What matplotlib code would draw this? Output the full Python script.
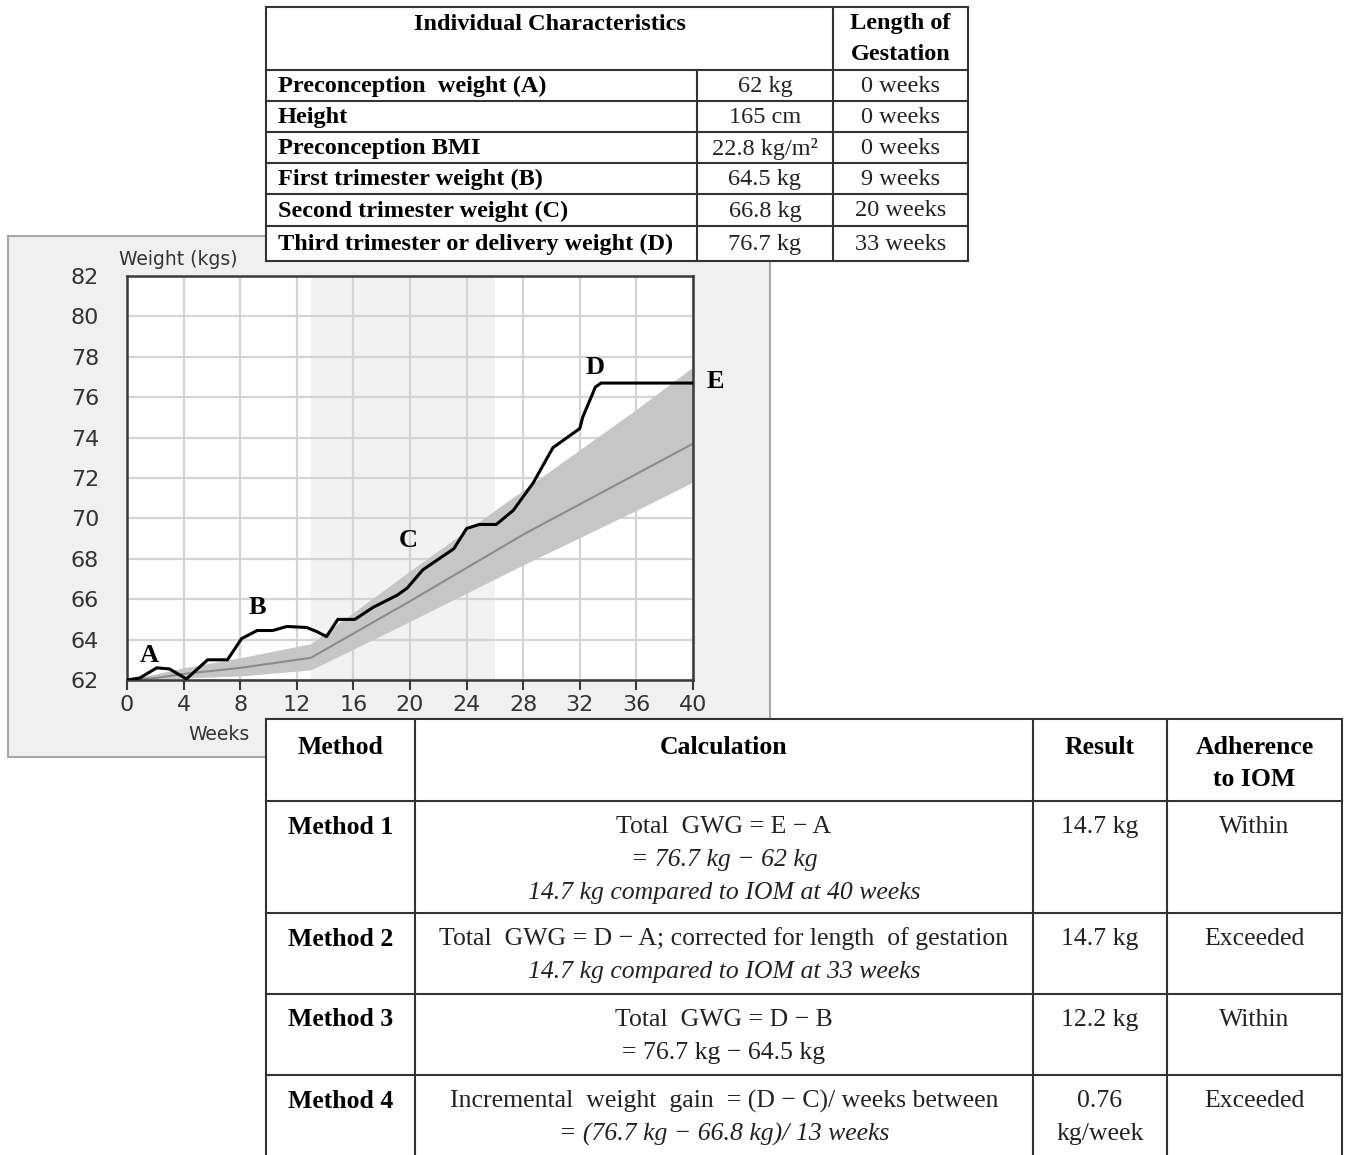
import matplotlib.pyplot as plt
from matplotlib.patches import Rectangle

plt.rcParams.update({'font.family': 'DejaVu Sans'})

W, H = 1348, 1155

# measured weight track (weeks, kg)
weeks = [0, 0.9, 2.1, 3.0, 4.2, 5.7, 7.1, 8.1, 9.2, 10.3, 11.3, 12.7, 13.4, 14.1,
         14.9, 16.1, 17.4, 19.1, 19.8, 20.9, 23.1, 24.0, 24.9, 26.1, 27.3, 28.7,
         30.1, 31.1, 32.0, 32.2, 33.1, 33.5, 40]
weight = [62.0, 62.1, 62.6, 62.55, 62.05, 63.0, 63.0, 64.05, 64.45, 64.45, 64.65,
          64.6, 64.4, 64.15, 65.0, 65.0, 65.6, 66.2, 66.55, 67.45, 68.5, 69.5,
          69.7, 69.7, 70.4, 71.75, 73.5, 74.0, 74.45, 75.0, 76.5, 76.7, 76.7]

# IOM recommended range
iom_weeks = [0, 2, 4, 8, 13, 20, 28, 36, 40]
iom_low = [62.0, 62.0, 62.1, 62.2, 62.5, 64.9, 67.7, 70.4, 71.8]
iom_mid = [62.0, 62.1, 62.3, 62.6, 63.1, 65.9, 69.2, 72.2, 73.7]
iom_high = [62.0, 62.3, 62.6, 63.1, 63.8, 67.4, 71.4, 75.4, 77.5]

second_trimester = [13, 26]

point_names = ['A', 'B', 'C', 'D', 'E']
point_weeks = [1.6, 9.2, 19.9, 33.1, 41.6]
point_weights = [63.2, 65.6, 68.9, 77.45, 76.8]

# top table
char_header = ['Individual Characteristics']
gest_header = ['Length of', 'Gestation']
char_rows = ['Preconception  weight (A)', 'Height', 'Preconception BMI',
             'First trimester weight (B)', 'Second trimester weight (C)',
             'Third trimester or delivery weight (D)']
char_values = ['62 kg', '165 cm', '22.8 kg/m\u00b2', '64.5 kg', '66.8 kg', '76.7 kg']
char_weeks = ['0 weeks', '0 weeks', '0 weeks', '9 weeks', '20 weeks', '33 weeks']

# bottom table
method_headers = [['Method'], ['Calculation'], ['Result'], ['Adherence', 'to IOM']]
methods = ['Method 1', 'Method 2', 'Method 3', 'Method 4']
calc_lines = [
    [('Total  GWG = E \u2212 A', 'normal'), ('= 76.7 kg \u2212 62 kg', 'italic'),
     ('14.7 kg compared to IOM at 40 weeks', 'italic')],
    [('Total  GWG = D \u2212 A; corrected for length  of gestation', 'normal'),
     ('14.7 kg compared to IOM at 33 weeks', 'italic')],
    [('Total  GWG = D \u2212 B', 'normal'), ('= 76.7 kg \u2212 64.5 kg', 'normal')],
    [('Incremental  weight  gain  = (D \u2212 C)/ weeks between', 'normal'),
     ('= (76.7 kg \u2212 66.8 kg)/ 13 weeks', 'italic')],
]
results = [['14.7 kg'], ['14.7 kg'], ['12.2 kg'], ['0.76', 'kg/week']]
adherence = ['Within', 'Exceeded', 'Within', 'Exceeded']

fig = plt.figure(figsize=(W / 100, H / 100), dpi=100)
fig.patch.set_facecolor('white')

def px_axes(zorder):
    a = fig.add_axes([0, 0, 1, 1], zorder=zorder)
    a.set_xlim(0, W)
    a.set_ylim(H, 0)
    a.axis('off')
    a.patch.set_alpha(0)
    return a

# chart panel
bg = px_axes(0)
bg.add_patch(Rectangle((8, 236), 762, 521, facecolor='#f0f0f0', edgecolor='#a8a8a8', lw=1.5))

# chart
ax = fig.add_axes([127 / W, (H - 680) / H, 566 / W, 404 / H], zorder=1)
ax.set_xlim(0, 40)
ax.set_ylim(62, 82)
ax.axvspan(second_trimester[0], second_trimester[1], color='#f2f2f2', lw=0, zorder=0)
ax.set_xticks(range(0, 41, 4))
ax.set_yticks(range(62, 83, 2))
ax.grid(True, color='#d4d4d4', lw=1.6, zorder=0.5)
ax.set_axisbelow(True)
ax.fill_between(iom_weeks, iom_low, iom_high, color='#c6c6c6', lw=0, zorder=1)
ax.plot(iom_weeks, iom_mid, color='#8c8c8c', lw=1.5, zorder=2)
ax.plot(weeks, weight, color='black', lw=2.2, zorder=3)
for name, wk, wt in zip(point_names, point_weeks, point_weights):
    ax.text(wk, wt, name, family='Liberation Serif', weight='bold', fontsize=19,
            ha='center', va='center', clip_on=False, zorder=4)
for s in ax.spines.values():
    s.set_color('#3a3a3a')
    s.set_linewidth(1.8)
ax.tick_params(axis='x', direction='out', length=7, width=1.5, color='#3a3a3a',
               labelsize=16, labelcolor='#333333', pad=4)
ax.tick_params(axis='y', length=0, labelsize=16, labelcolor='#333333', pad=20)
ax.text(0.09, 1.042, 'Weight (kgs)', transform=ax.transAxes, ha='center', va='center',
        fontsize=13.5, color='#333333')
ax.text(0.163, -0.134, 'Weeks', transform=ax.transAxes, ha='center', va='center',
        fontsize=13.5, color='#333333')

# tables
tb = px_axes(2)
LC = '#333333'
LW = 1.5
SERIF = 'Liberation Serif'
TS = 17.5   # top table font size
BS = 18.5   # bottom table font size

def hline(y, x0, x1):
    tb.plot([x0, x1], [y, y], color=LC, lw=LW, solid_capstyle='projecting')

def vline(x, y0, y1):
    tb.plot([x, x], [y0, y1], color=LC, lw=LW, solid_capstyle='projecting')

def lines_text(x, y, lines, step, **kw):
    for k, t in enumerate(lines):
        tb.text(x, y + k * step, t, ha='center', va='center', family=SERIF, **kw)

# top table
tx = [266, 697, 833, 968]
ty = [7, 70, 101, 132, 163, 194, 226, 261]
tb.add_patch(Rectangle((tx[0], ty[0]), tx[-1] - tx[0], ty[-1] - ty[0], facecolor='white', lw=0))
for y in ty:
    hline(y, tx[0], tx[-1])
vline(tx[0], ty[0], ty[-1])
vline(tx[2], ty[0], ty[-1])
vline(tx[3], ty[0], ty[-1])
vline(tx[1], ty[1], ty[-1])
lines_text((tx[0] + tx[2]) / 2, 24, char_header, 30, weight='bold', fontsize=TS)
lines_text((tx[2] + tx[3]) / 2, 24, gest_header, 30, weight='bold', fontsize=TS)
for i, (lab, val, wk) in enumerate(zip(char_rows, char_values, char_weeks)):
    yc = (ty[i + 1] + ty[i + 2]) / 2 + 1
    tb.text(278, yc, lab, family=SERIF, weight='bold', fontsize=TS, ha='left', va='center')
    tb.text((tx[1] + tx[2]) / 2, yc, val, family=SERIF, fontsize=TS, ha='center', va='center',
            color='#222222')
    tb.text((tx[2] + tx[3]) / 2, yc, wk, family=SERIF, fontsize=TS, ha='center', va='center',
            color='#222222')

# bottom table
bx = [266, 415, 1033, 1167, 1342]
by = [719, 801, 913, 994, 1075, 1158]
tb.add_patch(Rectangle((bx[0], by[0]), bx[-1] - bx[0], by[-1] - by[0], facecolor='white', lw=0))
for y in by[:-1]:
    hline(y, bx[0], bx[-1])
for x in bx:
    vline(x, by[0], by[-1])
for j, h in enumerate(method_headers):
    lines_text((bx[j] + bx[j + 1]) / 2, 747, h, 33, weight='bold', fontsize=BS)
step = 33
for i in range(4):
    y0 = by[i + 1] + 26
    tb.text((bx[0] + bx[1]) / 2, y0, methods[i], family=SERIF, weight='bold', fontsize=BS,
            ha='center', va='center')
    for k, (txt, sty) in enumerate(calc_lines[i]):
        tb.text((bx[1] + bx[2]) / 2, y0 + k * step, txt, family=SERIF, style=sty, fontsize=BS,
                ha='center', va='center', color='#222222')
    lines_text((bx[2] + bx[3]) / 2, y0, results[i], step, fontsize=BS, color='#222222')
    tb.text((bx[3] + bx[4]) / 2, y0, adherence[i], family=SERIF, fontsize=BS,
            ha='center', va='center', color='#222222')

fig.savefig('out.png', dpi=100)
